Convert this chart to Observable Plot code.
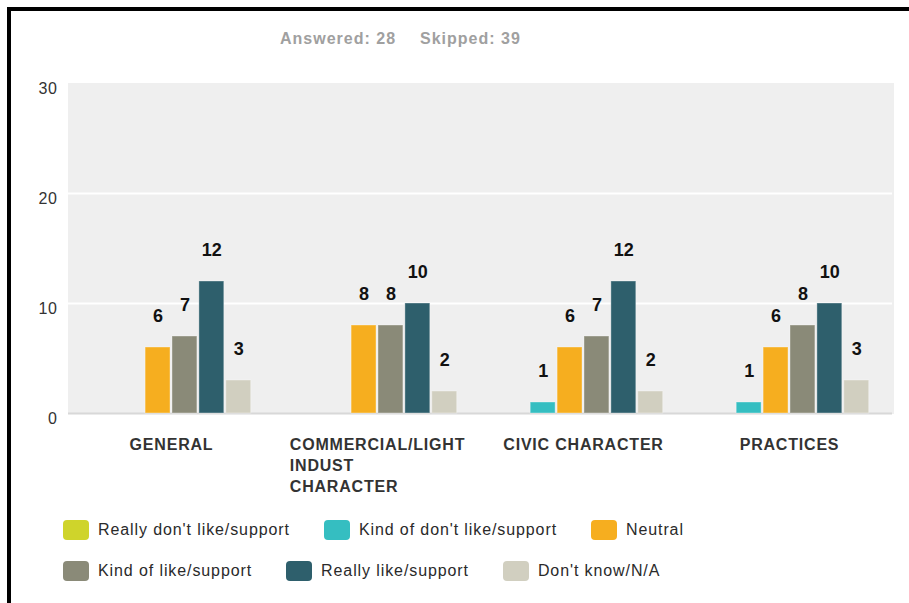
<!DOCTYPE html>
<html>
<head>
<meta charset="utf-8">
<script src="https://cdn.jsdelivr.net/npm/d3@7"></script>
<script src="https://cdn.jsdelivr.net/npm/@observablehq/plot@0.6"></script>
<style>
  html, body { margin: 0; padding: 0; background: #fff; overflow: hidden; }
  body { width: 909px; height: 603px; position: relative; font-family: "Liberation Sans", Arial, sans-serif; }
  #border { position: absolute; left: 7px; top: 7px; width: 1000px; height: 1000px; border-left: 4px solid #000; border-top: 4px solid #000; }
  #title { position: absolute; left: 280px; top: 29px; font-size: 16px; line-height: 20px; font-weight: bold; color: #a0a0a0; letter-spacing: 1px; white-space: nowrap; }
  #title span + span { margin-left: 24px; }
  #chart { position: absolute; left: 0; top: 0; }
  #legend { position: absolute; left: 63px; top: 520px; font-size: 16px; color: #2a2a2a; letter-spacing: 0.9px; }
  .row { display: flex; height: 20px; align-items: center; margin-bottom: 21px; white-space: nowrap; }
  .item { display: flex; align-items: center; margin-right: 34px; }
  .sw { width: 26px; height: 20px; border-radius: 4px; margin-right: 9px; }
  g[aria-label="fx-axis tick label"] text { letter-spacing: 0.8px; }
  g[aria-label="y-axis tick label"] text { letter-spacing: 0.6px; }
  g[aria-label="frame"] rect { shape-rendering: crispEdges; }
</style>
</head>
<body>
<div id="border"></div>
<div id="title"></div>
<div id="chart"></div>
<div id="legend"></div>
<script>
const titleParts = ["Answered: 28", "Skipped: 39"];
const categories = ["GENERAL", "COMMERCIAL/LIGHT INDUST CHARACTER", "CIVIC CHARACTER", "PRACTICES"];
const categoryLabels = ["GENERAL", "COMMERCIAL/LIGHT\nINDUST\nCHARACTER", "CIVIC CHARACTER", "PRACTICES"];
const series = ["Really don't like/support", "Kind of don't like/support", "Neutral", "Kind of like/support", "Really like/support", "Don't know/N/A"];
const colors = ["#cfd42b", "#35bec1", "#f6ae1f", "#8a8a78", "#2e5f6c", "#d1cfc0"];
const reallyDontLike = [0, 0, 0, 0];
const kindOfDontLike = [0, 0, 1, 1];
const neutral = [6, 8, 6, 6];
const kindOfLike = [7, 8, 7, 8];
const reallyLike = [12, 10, 12, 10];
const dontKnow = [3, 2, 2, 3];
const yTicks = [0, 10, 20, 30];

const seriesValues = [reallyDontLike, kindOfDontLike, neutral, kindOfLike, reallyLike, dontKnow];
const data = series.flatMap((s, i) => categories.map((c, j) => ({cat: c, series: s, value: seriesValues[i][j]})));
const shown = data.filter(d => d.value > 0);

document.getElementById("title").innerHTML = titleParts.map(t => `<span>${t}</span>`).join("");

const chart = Plot.plot({
  width: 909,
  height: 510,
  marginTop: 83,
  marginBottom: 97,
  marginLeft: 66,
  marginRight: 16,
  style: {fontFamily: '"Liberation Sans", Arial, sans-serif', background: "transparent", overflow: "visible"},
  fx: {domain: categories, padding: 0, round: true, label: null},
  x: {domain: series, paddingInner: 0.074, paddingOuter: 0.866, round: false, axis: null},
  y: {domain: [0, 30], label: null},
  color: {domain: series, range: colors},
  marks: [
    Plot.frame({fill: "#efefef", stroke: "#efefef", strokeWidth: 1, insetRight: -1}),
    Plot.gridY(yTicks.filter(t => t > 0 && t < 30), {stroke: "#fff", strokeOpacity: 1, strokeWidth: 2}),
    Plot.ruleY([0], {stroke: "#d8d8d8", strokeWidth: 2}),
    Plot.barY(shown, {fx: "cat", x: "series", y: "value", fill: "series", stroke: "#fff", strokeOpacity: 0.35, strokeWidth: 1}),
    Plot.text(shown, {fx: "cat", x: "series", y: "value", text: d => String(d.value), lineAnchor: "bottom", dy: -26, fontSize: 18, fontWeight: "bold", fill: "#111"}),
    Plot.axisY({ticks: yTicks, tickSize: 0, tickPadding: 11, fontSize: 16, color: "#333", dy: 5, label: null}),
    Plot.axisFx({anchor: "bottom", tickSize: 0, tickPadding: 22, fontSize: 16, fontWeight: "bold", lineHeight: 1.3, color: "#333", label: null,
      tickFormat: c => categoryLabels[categories.indexOf(c)]})
  ]
});
document.getElementById("chart").appendChild(chart);

// left-align the lines of each category label as a block centred on its group
chart.querySelectorAll('g[aria-label="fx-axis tick label"] text').forEach(t => {
  const w = t.getBBox().width;
  t.setAttribute("text-anchor", "start");
  t.setAttribute("x", -w / 2);
  t.querySelectorAll("tspan").forEach(ts => ts.setAttribute("x", -w / 2));
});

const legendRows = [series.slice(0, 3), series.slice(3)];
document.getElementById("legend").innerHTML = legendRows.map(row =>
  `<div class="row">${row.map(s => `<div class="item"><div class="sw" style="background:${colors[series.indexOf(s)]}"></div><span>${s}</span></div>`).join("")}</div>`
).join("");
</script>
</body>
</html>
